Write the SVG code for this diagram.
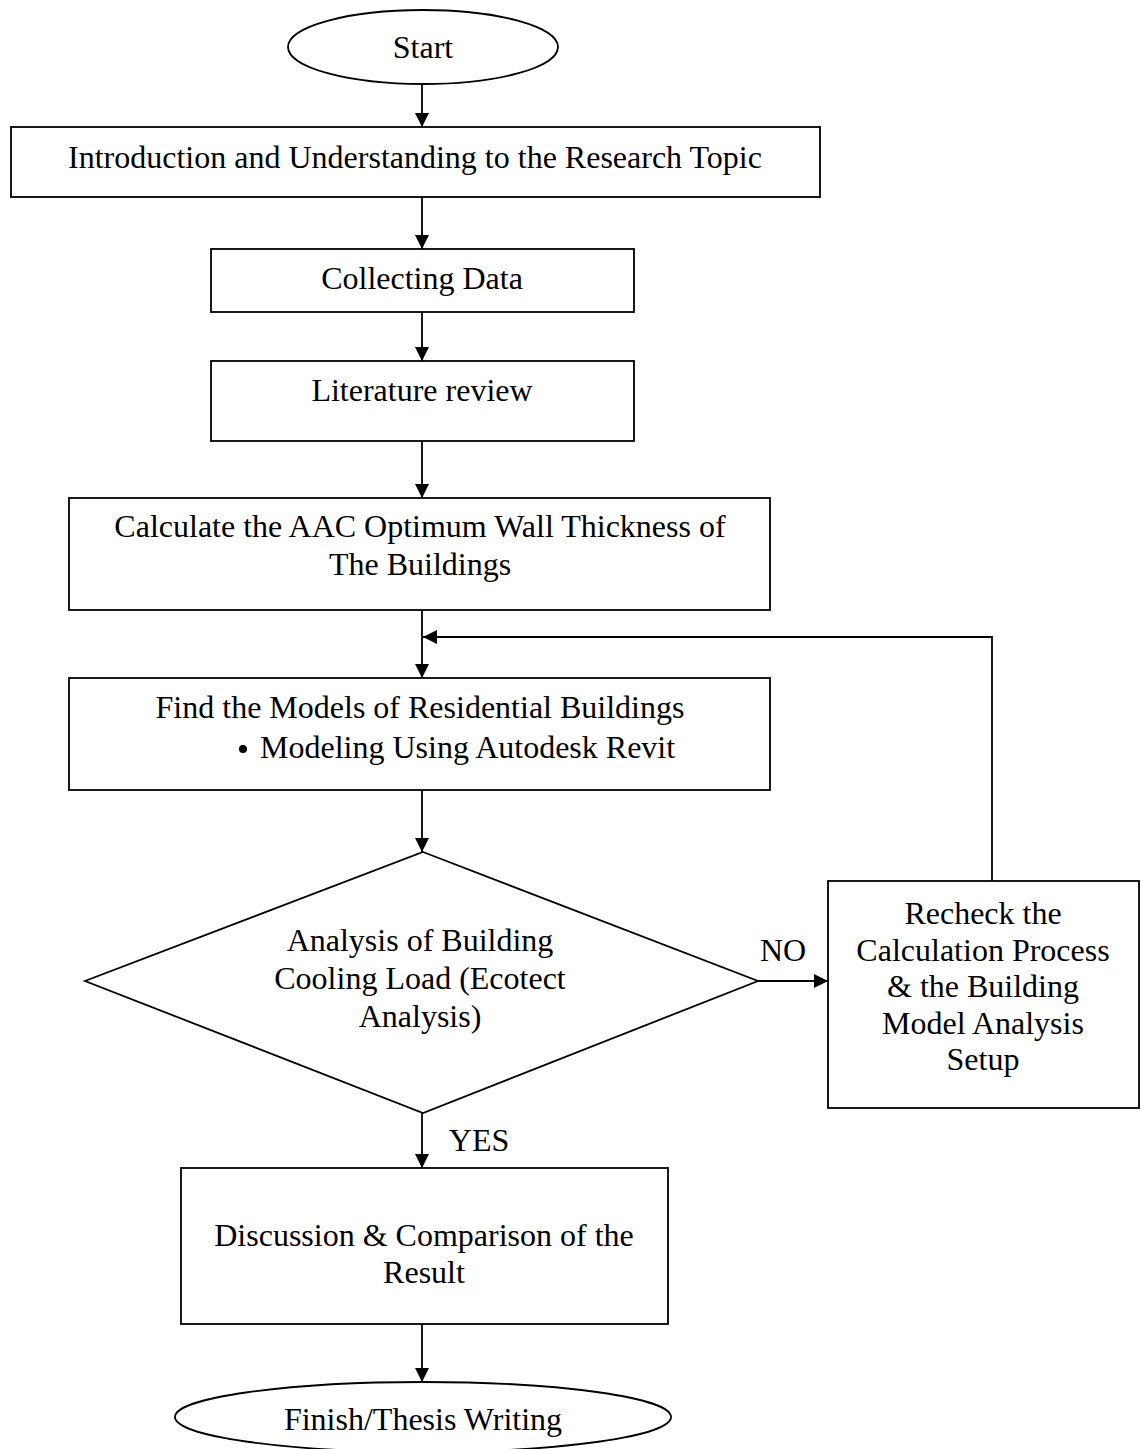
<svg xmlns="http://www.w3.org/2000/svg" width="1141" height="1449" viewBox="0 0 1141 1449">
<style>
.s{fill:#fff;stroke:#000;stroke-width:1.8}
.t{font-family:"Liberation Serif","Times New Roman",serif;font-size:32px;fill:#000;text-anchor:middle}
.c{fill:none;stroke:#000;stroke-width:1.8}
</style>
<defs>
<marker id="a" viewBox="0 0 14 14" refX="14" refY="7" markerWidth="15" markerHeight="14" markerUnits="userSpaceOnUse" orient="auto">
<path d="M0,0 L14,7 L0,14 Z" fill="#000"/>
</marker>
</defs>
<rect width="1141" height="1449" fill="#fff"/>
<g id="connectors">
<line class="c" x1="422" y1="85" x2="422" y2="127" marker-end="url(#a)"/>
<line class="c" x1="422" y1="197" x2="422" y2="249" marker-end="url(#a)"/>
<line class="c" x1="422" y1="312" x2="422" y2="361" marker-end="url(#a)"/>
<line class="c" x1="422" y1="441" x2="422" y2="498" marker-end="url(#a)"/>
<line class="c" x1="422" y1="610" x2="422" y2="678" marker-end="url(#a)"/>
<polyline class="c" points="992,881 992,637 423,637" marker-end="url(#a)"/>
<line class="c" x1="422" y1="790" x2="422" y2="852" marker-end="url(#a)"/>
<line class="c" x1="758" y1="981" x2="828" y2="981" marker-end="url(#a)"/>
<line class="c" x1="422" y1="1113" x2="422" y2="1168" marker-end="url(#a)"/>
<line class="c" x1="422" y1="1324" x2="422" y2="1382" marker-end="url(#a)"/>
<text class="t" x="783" y="961">NO</text>
<text class="t" x="479" y="1151">YES</text>
</g>
<g id="start">
<ellipse class="s" cx="423" cy="47" rx="135" ry="37"/>
<text class="t" x="423" y="58">Start</text>
</g>
<g id="intro">
<rect class="s" x="11" y="127" width="809" height="70"/>
<text class="t" x="415" y="168">Introduction and Understanding to the Research Topic</text>
</g>
<g id="collect">
<rect class="s" x="211" y="249" width="423" height="63"/>
<text class="t" x="422" y="289">Collecting Data</text>
</g>
<g id="literature">
<rect class="s" x="211" y="361" width="423" height="80"/>
<text class="t" x="422" y="401">Literature review</text>
</g>
<g id="calculate">
<rect class="s" x="69" y="498" width="701" height="112"/>
<text class="t" x="420" y="537">Calculate the AAC Optimum Wall Thickness of</text>
<text class="t" x="420" y="575">The Buildings</text>
</g>
<g id="models">
<rect class="s" x="69" y="678" width="701" height="112"/>
<text class="t" x="420" y="718">Find the Models of Residential Buildings</text>
<circle cx="243" cy="749" r="4" fill="#000"/>
<text class="t" x="260" y="758" style="text-anchor:start">Modeling Using Autodesk Revit</text>
</g>
<g id="analysis">
<polygon class="s" points="423,852 758,981 423,1113 85,981"/>
<text class="t" x="420" y="951">Analysis of Building</text>
<text class="t" x="420" y="989">Cooling Load (Ecotect</text>
<text class="t" x="420" y="1027">Analysis)</text>
</g>
<g id="recheck">
<rect class="s" x="828" y="881" width="311" height="227"/>
<text class="t" x="983" y="924">Recheck the</text>
<text class="t" x="983" y="961">Calculation Process</text>
<text class="t" x="983" y="997">&amp; the Building</text>
<text class="t" x="983" y="1034">Model Analysis</text>
<text class="t" x="983" y="1070">Setup</text>
</g>
<g id="discussion">
<rect class="s" x="181" y="1168" width="487" height="156"/>
<text class="t" x="424" y="1246">Discussion &amp; Comparison of the</text>
<text class="t" x="424" y="1283">Result</text>
</g>
<g id="finish">
<ellipse class="s" cx="423" cy="1417" rx="248" ry="35"/>
<text class="t" x="423" y="1430">Finish/Thesis Writing</text>
</g>
</svg>
